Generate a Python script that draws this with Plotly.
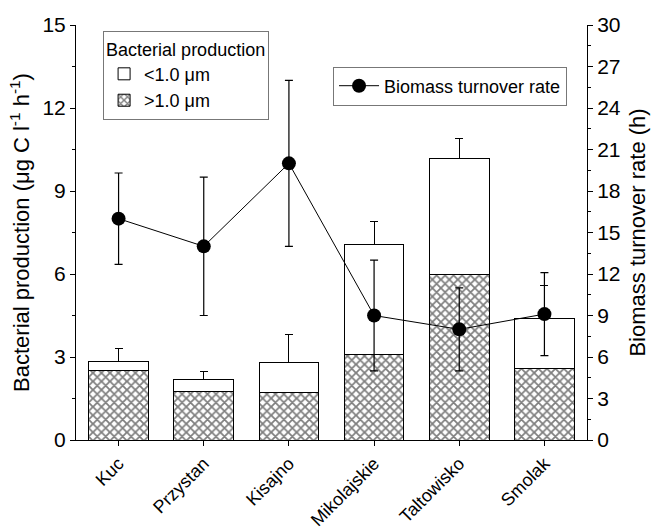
import plotly.graph_objects as go

sites = ["Kuc", "Przystan", "Kisajno", "Mikolajskie", "Taltowisko", "Smolak"]
bp_large = [2.53, 1.77, 1.71, 3.10, 6.00, 2.60]   # >1.0 um
bp_small = [0.30, 0.40, 1.10, 3.98, 4.18, 1.80]   # <1.0 um (stacked above)
bp_err = [0.48, 0.30, 1.00, 0.80, 0.72, 1.20]
turnover = [16.0, 14.0, 20.0, 9.0, 8.0, 9.1]
turnover_err = [3.3, 5.0, 6.0, 4.0, 3.0, 3.0]

FONT = "Liberation Sans, Arial, sans-serif"

fig = go.Figure()
fig.add_trace(go.Bar(
    x=sites, y=bp_large, name=">1.0 μm", legend="legend",
    marker=dict(color="white", line=dict(color="black", width=1),
                pattern=dict(shape="x", fgcolor="black", bgcolor="white", size=6, solidity=0.5)),
    width=0.7,
))
fig.add_trace(go.Bar(
    x=sites, y=bp_small, name="<1.0 μm", legend="legend",
    marker=dict(color="white", line=dict(color="black", width=1)),
    width=0.7,
    error_y=dict(type="data", symmetric=False, array=bp_err, arrayminus=[0]*len(bp_err),
                 color="black", thickness=1, width=4),
))
fig.add_trace(go.Scatter(
    x=sites, y=turnover, name="Biomass turnover rate", legend="legend2", yaxis="y2",
    mode="lines+markers",
    line=dict(color="black", width=1),
    marker=dict(color="black", size=14, symbol="circle"),
    error_y=dict(type="data", array=turnover_err, color="black", thickness=1.2, width=4),
))

fig.update_layout(
    width=651, height=529,
    margin=dict(l=76, r=64, t=25, b=89),
    paper_bgcolor="white", plot_bgcolor="white",
    font=dict(family=FONT, size=21, color="black"),
    barmode="stack", bargap=0.3,
    showlegend=True,
    xaxis=dict(
        range=[-0.5, 5.5], showline=True, linecolor="black", linewidth=1,
        ticks="outside", ticklen=5, tickcolor="black", tickangle=-45,
        tickfont=dict(size=18), showgrid=False, zeroline=False, automargin=False,
    ),
    yaxis=dict(
        range=[0, 15], tickvals=[0, 3, 6, 9, 12, 15],
        showline=True, linecolor="black", linewidth=1,
        ticks="outside", ticklen=5, tickcolor="black",
        minor=dict(ticks="outside", ticklen=3, dtick=1.5, tickcolor="black"),
        showgrid=False, zeroline=False, automargin=False,
        title=dict(text="Bacterial production (μg C l<sup>-1</sup> h<sup>-1</sup>)", font=dict(size=22), standoff=6),
    ),
    yaxis2=dict(
        range=[0, 30], tickvals=list(range(0, 31, 3)), overlaying="y", side="right",
        showline=True, linecolor="black", linewidth=1,
        ticks="outside", ticklen=5, tickcolor="black",
        minor=dict(ticks="outside", ticklen=3, dtick=1.5, tickcolor="black"),
        showgrid=False, zeroline=False, automargin=False,
    ),
    annotations=[dict(
        text="Biomass turnover rate (h)", textangle=-90,
        xref="paper", yref="paper", x=1.098, y=0.5, xanchor="center", yanchor="middle",
        showarrow=False, font=dict(size=22),
    )],
    legend=dict(
        x=0.053, y=0.985, xanchor="left", yanchor="top",
        traceorder="reversed",
        title=dict(text="Bacterial production", font=dict(size=18)),
        font=dict(size=18), bgcolor="white",
        bordercolor="#777777", borderwidth=1, tracegroupgap=0,
    ),
    legend2=dict(
        x=0.503, y=0.9, xanchor="left", yanchor="top",
        font=dict(size=18), bgcolor="white",
        bordercolor="#777777", borderwidth=1, itemwidth=40,
    ),
)

fig.write_html(
    "out.html",
    config={"displayModeBar": False},
    post_script="document.body.style.margin='0';document.body.style.overflow='hidden';",
)
